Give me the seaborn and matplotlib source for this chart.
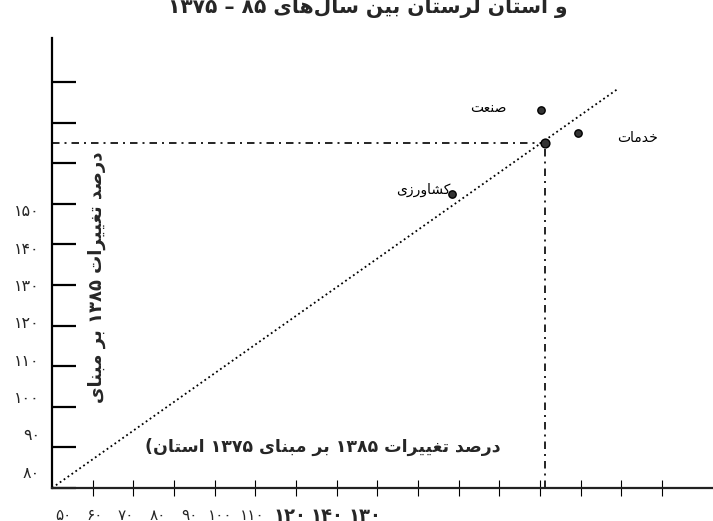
import re
import matplotlib
matplotlib.use("Agg")
import matplotlib.pyplot as plt
import seaborn as sns
import pandas as pd

# ---------------- data ----------------
sectors = ["صنعت", "خدمات", "کشاورزی"]
province_change = [200.2, 209.3, 178.4]   # x: percent change 1385 vs 1375 (province)
county_change = [173.1, 167.4, 152.4]     # y: percent change 1385 vs 1375
total_x = [201.2]
total_y = [165.0]
diag_x = [80, 219.4]
diag_y = [80, 178.5]
y_ticks = [80, 90, 100, 110, 120, 130, 140, 150, 160, 170, 180]
y_tick_labels = ["۸۰", "۹۰", "۱۰۰", "۱۱۰", "۱۲۰", "۱۳۰", "۱۴۰", "۱۵۰"]
x_ticks = [90, 100, 110, 120, 130, 140, 150, 160, 170, 180, 190, 200, 210, 220, 230]
x_tick_labels = ["۵۰", "۶۰", "۷۰", "۸۰", "۹۰", "۱۰۰", "۱۱۰", "۱۲۰", "۱۴۰", "۱۳۰"]
title = "و استان لرستان بین سال‌های ۸۵ – ۱۳۷۵"
x_label = "درصد تغییرات ۱۳۸۵ بر مبنای ۱۳۷۵ استان("
y_label = "درصد تغییرات ۱۳۸۵ بر مبنای"

# ---------------- simple Persian shaping ----------------
FORMS = {
    "ا": ("\uFE8D", "\uFE8E", None, None),
    "ب": ("\uFE8F", "\uFE90", "\uFE91", "\uFE92"),
    "ت": ("\uFE95", "\uFE96", "\uFE97", "\uFE98"),
    "خ": ("\uFEA5", "\uFEA6", "\uFEA7", "\uFEA8"),
    "د": ("\uFEA9", "\uFEAA", None, None),
    "ر": ("\uFEAD", "\uFEAE", None, None),
    "ز": ("\uFEAF", "\uFEB0", None, None),
    "س": ("\uFEB1", "\uFEB2", "\uFEB3", "\uFEB4"),
    "ش": ("\uFEB5", "\uFEB6", "\uFEB7", "\uFEB8"),
    "ص": ("\uFEB9", "\uFEBA", "\uFEBB", "\uFEBC"),
    "ع": ("\uFEC9", "\uFECA", "\uFECB", "\uFECC"),
    "غ": ("\uFECD", "\uFECE", "\uFECF", "\uFED0"),
    "ل": ("\uFEDD", "\uFEDE", "\uFEDF", "\uFEE0"),
    "م": ("\uFEE1", "\uFEE2", "\uFEE3", "\uFEE4"),
    "ن": ("\uFEE5", "\uFEE6", "\uFEE7", "\uFEE8"),
    "ه": ("\uFEE9", "\uFEEA", "\uFEEB", "\uFEEC"),
    "و": ("\uFEED", "\uFEEE", None, None),
    "ی": ("\uFBFC", "\uFBFD", "\uFBFE", "\uFBFF"),
    "ک": ("\uFB8E", "\uFB8F", "\uFB90", "\uFB91"),
}


def shape(s):
    out = []
    n = len(s)
    for i, c in enumerate(s):
        if c not in FORMS:
            if c != "\u200c":
                out.append(c)
            continue
        prev = s[i - 1] if i > 0 else None
        nxt = s[i + 1] if i < n - 1 else None
        iso, fin, ini, med = FORMS[c]
        jp = prev in FORMS and FORMS[prev][2] is not None
        jn = nxt in FORMS and ini is not None
        if jp and jn:
            out.append(med)
        elif jp:
            out.append(fin)
        elif jn:
            out.append(ini)
        else:
            out.append(iso)
    return "".join(out)


def fa(s):
    t = shape(s)[::-1]
    return re.sub(r"[0-9\u06F0-\u06F9]+", lambda m: m.group(0)[::-1], t)


# ---------------- figure ----------------
sns.set_style("white")
plt.rcParams["font.family"] = ["DejaVu Sans"]

W, H = 713, 521
fig = plt.figure(figsize=(W / 100, H / 100), dpi=100)
ax_left, ax_right, ax_top, ax_bottom = 52, 713, 38, 488
ax = fig.add_axes([ax_left / W, (H - ax_bottom) / H,
                   (ax_right - ax_left) / W, (ax_bottom - ax_top) / H])

ax.set_xlim(80, 80 + (ax_right - ax_left) / 40.67 * 10)
ax.set_ylim(80, 80 + (ax_bottom - ax_top) / 40.6 * 10)

# diagonal reference line
sns.lineplot(x=diag_x, y=diag_y, ax=ax, color="black", linestyle=":",
             linewidth=1.3, legend=False)

# dash-dot guides to the total point
dd = (0, (4.5, 3, 1.2, 3))
ax.plot([ax.get_xlim()[0], total_x[0]], [total_y[0], total_y[0]],
        color="black", linestyle=dd, linewidth=1.2)
ax.plot([total_x[0], total_x[0]], [ax.get_ylim()[0], total_y[0]],
        color="black", linestyle=dd, linewidth=1.2)

# points
df = pd.DataFrame({"sector": sectors, "x": province_change, "y": county_change})
sns.scatterplot(data=df, x="x", y="y", ax=ax, color="#333333", edgecolor="black",
                s=28, linewidth=1.0, legend=False, zorder=5)
sns.scatterplot(x=total_x, y=total_y, ax=ax, color="#333333", edgecolor="black",
                s=40, linewidth=1.0, legend=False, zorder=5)

offsets = {"صنعت": (-24.5, 1.5, "right"),
           "خدمات": (28, -3.6, "left"),
           "کشاورزی": (-1.5, 3.0, "right")}
for name, xv, yv in zip(sectors, province_change, county_change):
    dx, dy, ha = offsets[name]
    ax.annotate(fa(name), (xv, yv), xytext=(dx, dy), textcoords="offset points",
                ha=ha, va="center", fontsize=10, color="black")

# axes styling
for side in ["top", "right"]:
    ax.spines[side].set_visible(False)
ax.spines["left"].set_linewidth(1.6)
ax.spines["bottom"].set_linewidth(1.6)
ax.spines["left"].set_color("black")
ax.spines["bottom"].set_color("#222222")

ax.set_yticks(y_ticks)
ax.set_yticklabels([""] * len(y_ticks))
ax.tick_params(axis="y", direction="in", length=17.5, width=1.6, color="black",
               left=True)
ax.set_xticks(x_ticks)
ax.set_xticklabels([""] * len(x_ticks))
ax.tick_params(axis="x", direction="inout", length=12, width=0.8, color="black",
               bottom=True)
ax.set_xlabel("")
ax.set_ylabel("")

# y tick labels (drawn on their own, slightly compressed spacing as in the source)
y0, ystep = 473, 37.3
for i, lab in enumerate(y_tick_labels):
    fig.text(40 / W, (H - (y0 - i * ystep)) / H, lab, ha="right", va="center",
             fontsize=11.5)

# labels inside axes
ax.text(0.068, 0.469, fa(y_label), transform=ax.transAxes, rotation=90,
        ha="center", va="center", fontsize=13, fontweight="bold")
ax.text(0.41, 0.091, fa(x_label), transform=ax.transAxes,
        ha="center", va="center", fontsize=12.5, fontweight="bold")

# title (partly cut by the top edge)
fig.text(368 / W, (H - 13) / H, fa(title), ha="center", va="baseline",
         fontsize=14.6, fontweight="bold")

# x tick labels at the bottom (partly cut)
x0, step = 63, 31.5
for i, lab in enumerate(x_tick_labels):
    big = i >= 7
    fig.text((x0 + i * step + (6 * (i - 6) if big else 0)) / W, (H - 521 + 5) / H, lab,
             ha="center", va="center", fontsize=13 if big else 11,
             fontweight="bold" if big else "normal")

fig.savefig("out.png", dpi=100)
